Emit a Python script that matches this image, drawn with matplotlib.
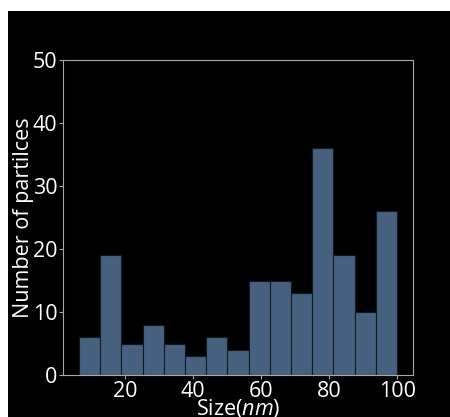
import numpy as np
import matplotlib.pyplot as plt
from matplotlib.patches import Rectangle

# histogram counts
counts = [6, 19, 5, 8, 5, 3, 6, 4, 15, 15, 13, 36, 19, 10, 26]
size_min, size_max = 6.5, 100.0
bin_edges = np.linspace(size_min, size_max, len(counts) + 1)
xticks = [20, 40, 60, 80, 100]
yticks = [0, 10, 20, 30, 40, 50]

plt.rcParams['font.family'] = ['Open Sans', 'DejaVu Sans']
plt.rcParams['mathtext.fontset'] = 'custom'
plt.rcParams['mathtext.rm'] = 'Open Sans'
plt.rcParams['mathtext.it'] = 'Open Sans:italic'

fig = plt.figure(figsize=(4.5, 4.17), dpi=100, facecolor='white')
# black panel (screenshot has a thin white border top/left)
fig.patches.append(Rectangle((8 / 450, 0), 1, 1 - 11 / 417, transform=fig.transFigure,
                             facecolor='black', edgecolor='none', zorder=-10))

ax = fig.add_axes([63 / 450, 1 - 375 / 417, 350 / 450, 315 / 417])
ax.set_facecolor('black')
ax.bar(bin_edges[:-1], counts, width=np.diff(bin_edges), align='edge',
       color='#45617f', edgecolor='#101820', linewidth=0.8)

ax.set_ylim(0, 50)
ax.set_xticks(xticks)
ax.set_yticks(yticks)
for s in ax.spines.values():
    s.set_color('#a8a8a8')
ax.tick_params(colors='#a8a8a8', labelcolor='white', labelsize=15.5, length=3, pad=1)
ax.set_xlabel('Size($nm$)', color='white', fontsize=15.5, labelpad=-3)
ax.set_ylabel('Number of partilces', color='white', fontsize=15.5, labelpad=-1)

fig.savefig('out.png', dpi=100, facecolor=fig.get_facecolor())
